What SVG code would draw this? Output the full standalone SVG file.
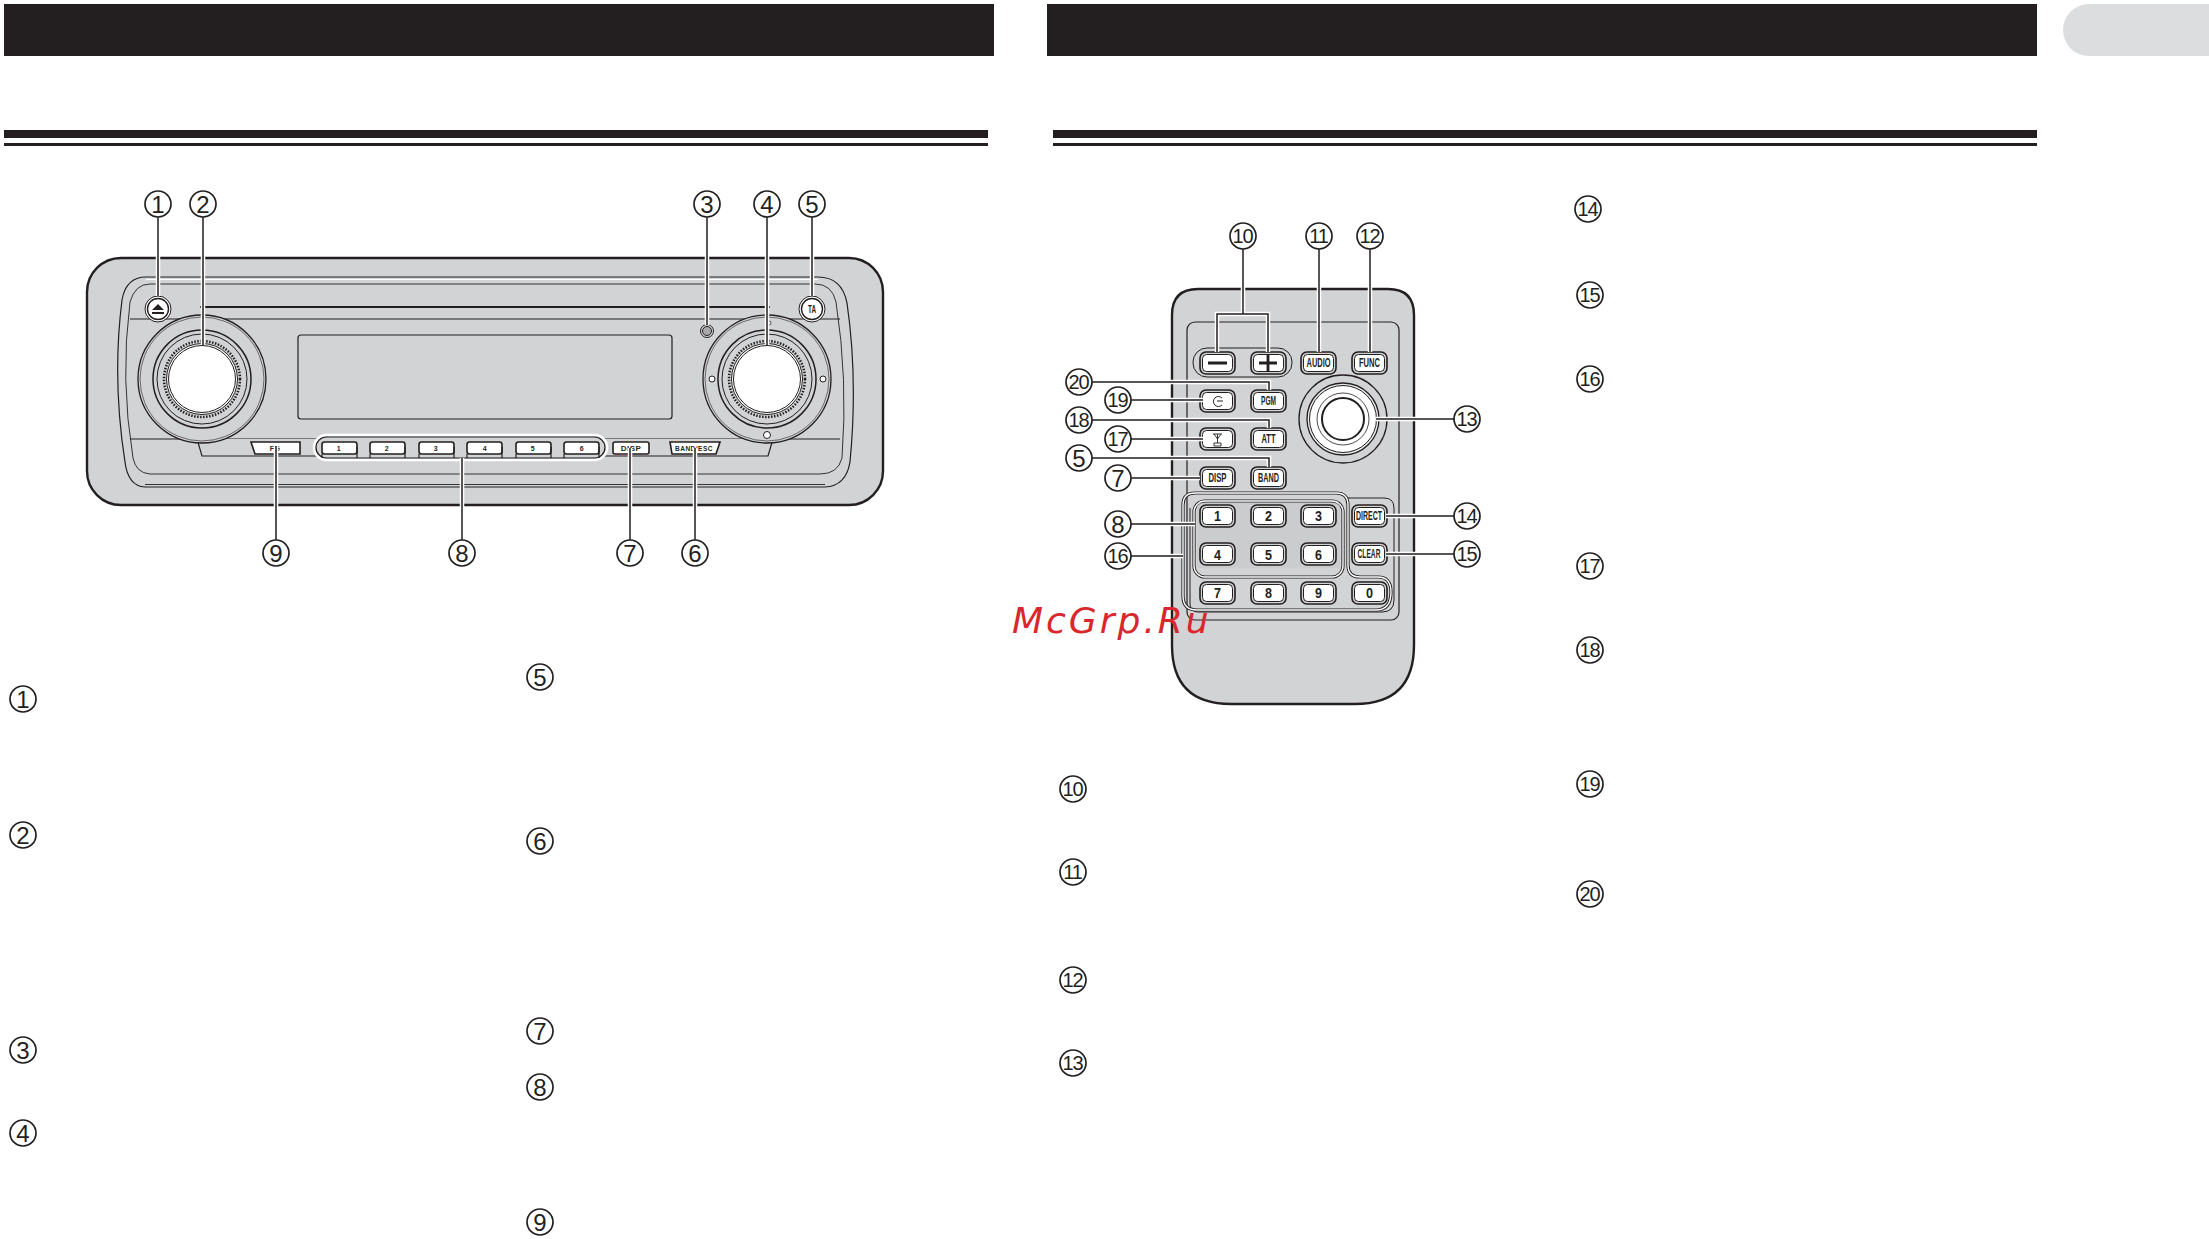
<svg xmlns="http://www.w3.org/2000/svg" width="2209" height="1239" viewBox="0 0 2209 1239">
<style>
text{font-family:"Liberation Sans",Arial,sans-serif;fill:#231f20;text-anchor:middle}
.c{fill:#fff;stroke:#231f20;stroke-width:1.7}
.n{font-size:24px}
.nn{font-size:20px;letter-spacing:-1.2px}
.g{fill:#d1d3d4;stroke:#231f20}
.l{fill:none;stroke:#231f20;stroke-width:1.2}
.h{fill:none;stroke:#fff;stroke-width:4.5}
.k{fill:none;stroke:#231f20;stroke-width:1.5}
.hb{fill:#fff;stroke:#231f20;stroke-width:1.6}
.ht{font-size:7px;font-weight:bold;letter-spacing:.5px}
.rt{font-size:12px;font-weight:bold}
.rn{font-size:15px;font-weight:bold}
</style>
<defs>
<g id="rb"><rect x="0" y="0" width="35" height="22" rx="6" fill="#d1d3d4" stroke="#231f20" stroke-width="1.6"/><rect x="2.500" y="2.500" width="30" height="17" rx="4" fill="#fff" stroke="#231f20" stroke-width="1"/></g>
<g id="hbtn"><rect x="0" y="0" width="35" height="12" rx="2.500" class="hb"/><path d="M35 5V16M0 12V16" class="l"/></g>
</defs>
<rect width="2209" height="1239" fill="#fff"/>
<g id="page-headers">
<rect x="4" y="4" width="990" height="52" fill="#231f20"/>
<rect x="1047" y="4" width="990" height="52" fill="#231f20"/>
<path d="M2209 4H2089a26 26 0 0 0 0 52H2209Z" fill="#dcddde"/>
<rect x="4" y="130" width="984" height="8" fill="#231f20"/>
<rect x="4" y="143" width="984" height="3" fill="#231f20"/>
<rect x="1053" y="130" width="984" height="8" fill="#231f20"/>
<rect x="1053" y="143" width="984" height="3" fill="#231f20"/>
</g>
<g id="head-unit">
<rect x="87" y="258" width="796" height="247" rx="34" class="g" stroke-width="2.400"/>
<path d="M146 277H818Q842 277 847 303Q858 379 850 462Q846 486 825 487H145Q128 486 125 462Q112 379 122 300Q126 277 146 277Z" class="l"/>
<path d="M150 284H815Q832 284 836 302Q848 379 842 458Q838 474 820 474H150Q136 473 133 458Q120 379 130 302Q135 284 150 284Z" class="l" style="stroke-width:.9"/>
<path d="M146 279.500H818" fill="none" stroke="#fff" stroke-width="1"/>
<path d="M145 484.500H825" class="l" style="stroke-width:.9"/>
<path d="M200 307H770" class="k" style="stroke-width:2"/>
<path d="M130 319H840M130 439H840" class="l"/>
<path d="M197 439L202 456H768L773 439" fill="#d1d3d4" stroke="#231f20" stroke-width="1.200"/>
<rect x="298" y="335" width="374" height="84" rx="3" class="g" stroke-width="1.200"/>
<g id="knob-left">
<circle cx="202" cy="379" r="64" class="g" stroke-width="1.300"/><circle cx="202" cy="379" r="62" fill="none" stroke="#231f20" stroke-width=".6"/>
<circle cx="202" cy="379" r="49" class="g" stroke-width="1.500"/><circle cx="202" cy="379" r="45" class="g" stroke-width="1"/>
<circle cx="202" cy="379" r="38" fill="#d1d3d4" stroke="#231f20" stroke-width="2.500" stroke-dasharray="1.500 1.500"/><circle cx="202" cy="379" r="35.500" fill="#fff" stroke="#231f20" stroke-width="1"/><circle cx="202" cy="379" r="33.500" fill="#fff" stroke="#231f20" stroke-width="1"/>
</g>
<g id="knob-right">
<circle cx="767" cy="379" r="64" class="g" stroke-width="1.300"/><circle cx="767" cy="379" r="62" fill="none" stroke="#231f20" stroke-width=".6"/>
<circle cx="767" cy="379" r="49" class="g" stroke-width="1.500"/><circle cx="767" cy="379" r="45" class="g" stroke-width="1"/>
<circle cx="767" cy="379" r="38" fill="#d1d3d4" stroke="#231f20" stroke-width="2.500" stroke-dasharray="1.500 1.500"/><circle cx="767" cy="379" r="35.500" fill="#fff" stroke="#231f20" stroke-width="1"/><circle cx="767" cy="379" r="33.500" fill="#fff" stroke="#231f20" stroke-width="1"/>
<circle cx="712" cy="379" r="3" fill="#fff" stroke="#231f20"/><circle cx="823" cy="379" r="3" fill="#fff" stroke="#231f20"/><circle cx="767" cy="435" r="3.500" fill="#fff" stroke="#231f20"/><circle cx="769" cy="323" r="2" fill="#fff" stroke="#231f20" stroke-width=".8"/>
</g>
<g id="btn-eject"><circle cx="158" cy="309" r="13" fill="#fff" stroke="#231f20"/><circle cx="158" cy="309" r="10.500" fill="#fff" stroke="#231f20" stroke-width="1.400"/><path d="M152 310L158 304L164 310ZM152 312H164V314H152Z" fill="#231f20"/></g>
<g id="btn-ta"><circle cx="812" cy="309" r="13" fill="#fff" stroke="#231f20"/><circle cx="812" cy="309" r="10.500" fill="#fff" stroke="#231f20" stroke-width="1.400"/><text x="812" y="313" font-size="10" font-weight="bold" textLength="8" lengthAdjust="spacingAndGlyphs">TA</text></g>
<g id="led"><circle cx="707" cy="331" r="6.500" fill="#d1d3d4" stroke="#231f20" stroke-width="1"/><circle cx="707" cy="331" r="4.500" fill="#a7a9ac" stroke="#231f20" stroke-width="1"/></g>
<g id="preset-group">
<rect x="314" y="435" width="293" height="25" rx="12.500" fill="#d1d3d4" stroke="#fff" stroke-width="2.500"/>
<rect x="316" y="437" width="289" height="21" rx="10.500" fill="#d1d3d4" stroke="#231f20" stroke-width="1.200"/>
<use href="#hbtn" x="322" y="442"/><use href="#hbtn" x="370" y="442"/><use href="#hbtn" x="419" y="442"/><use href="#hbtn" x="467" y="442"/><use href="#hbtn" x="516" y="442"/><use href="#hbtn" x="564" y="442"/>
<text x="339" y="451" class="ht">1</text><text x="387" y="451" class="ht">2</text><text x="436" y="451" class="ht">3</text><text x="485" y="451" class="ht">4</text><text x="533" y="451" class="ht">5</text><text x="582" y="451" class="ht">6</text>
</g>
<g id="btn-fg"><path d="M251 442H300V454H255Z" class="hb"/><text x="275" y="451" class="ht">FG</text></g>
<g id="btn-disp"><rect x="613" y="442" width="36" height="12" rx="2" class="hb"/><text x="631" y="451" class="ht" style="font-size:8px">DISP</text></g>
<g id="btn-band"><path d="M670 442H720L716 454H672Z" class="hb"/><text x="694" y="451" class="ht" style="font-size:6.500px">BAND/ESC</text></g>
</g>
<g id="remote">
<path d="M1198 289H1388Q1414 289 1414 315V645Q1414 704 1355 704H1231Q1172 704 1172 645V315Q1172 289 1198 289Z" class="g" stroke-width="2.400"/>
<rect x="1187" y="322" width="212" height="298" rx="8" fill="none" stroke="#231f20" stroke-width="1.200"/>
<rect x="1193" y="348" width="99" height="29" rx="14" fill="none" stroke="#231f20" stroke-width="1"/>
<g id="remote-knob"><circle cx="1343" cy="419" r="44" class="g" stroke-width="1.300"/><circle cx="1343" cy="419" r="36" fill="#e9eaeb" stroke="#231f20" stroke-width="1.300"/><circle cx="1343" cy="419" r="33.500" fill="#fff" stroke="#231f20" stroke-width="1"/><circle cx="1343" cy="419" r="26" fill="#fff" stroke="#231f20" stroke-width=".8"/><circle cx="1343" cy="419" r="21" fill="#fff" stroke="#231f20" stroke-width="2"/></g>
<path d="M1348 498H1384Q1394 498 1394 508V600Q1394 612 1382 612H1198Q1190 612 1190 604V508" class="l" style="stroke-width:1"/>
<path d="M1195 493H1336Q1348 493 1348 505V565Q1348 577 1360 577H1378Q1391 577 1391 592Q1391 610 1376 610H1197Q1183 610 1183 596V505Q1183 493 1195 493Z" fill="none" stroke="#231f20" stroke-width="3.200"/>
<path d="M1195 493H1336Q1348 493 1348 505V565Q1348 577 1360 577H1378Q1391 577 1391 592Q1391 610 1376 610H1197Q1183 610 1183 596V505Q1183 493 1195 493Z" fill="none" stroke="#fff" stroke-width="1.400"/>
<rect x="1194" y="501" width="149" height="76" rx="11" fill="none" stroke="#231f20" stroke-width="3.200"/>
<rect x="1194" y="501" width="149" height="76" rx="11" fill="none" stroke="#fff" stroke-width="1.400"/>
<path d="M1197 503H1340V568H1197Z" fill="#c4c6c8" opacity=".5"/>
<use href="#rb" x="1200" y="352"/><use href="#rb" x="1251" y="352"/><use href="#rb" x="1301" y="352"/><use href="#rb" x="1352" y="352"/>
<path d="M1208 363H1227M1259 363H1277M1268 355V371" fill="none" stroke="#231f20" stroke-width="2.800"/>
<text x="1318.500" y="367" class="rt" textLength="24" lengthAdjust="spacingAndGlyphs">AUDIO</text><text x="1369.500" y="367" class="rt" textLength="21" lengthAdjust="spacingAndGlyphs">FUNC</text>
<use href="#rb" x="1200" y="390"/><use href="#rb" x="1251" y="390"/>
<path d="M1222 398A5 5 0 1 0 1222 405M1217 401H1223" fill="none" stroke="#231f20" stroke-width="1"/>
<text x="1268.500" y="405" class="rt" textLength="15" lengthAdjust="spacingAndGlyphs">PGM</text>
<use href="#rb" x="1200" y="428"/><use href="#rb" x="1251" y="428"/>
<path d="M1213 434H1222M1217.500 434V443M1214 434L1217.500 439L1221 434M1214 443H1221V446H1214Z" fill="none" stroke="#231f20" stroke-width=".9"/>
<text x="1268.500" y="443" class="rt" textLength="14" lengthAdjust="spacingAndGlyphs">ATT</text>
<use href="#rb" x="1200" y="467"/><use href="#rb" x="1251" y="467"/>
<text x="1217.500" y="482" class="rt" textLength="18" lengthAdjust="spacingAndGlyphs">DISP</text><text x="1268.500" y="482" class="rt" textLength="21" lengthAdjust="spacingAndGlyphs">BAND</text>
<use href="#rb" x="1200" y="505"/><use href="#rb" x="1251" y="505"/><use href="#rb" x="1301" y="505"/><use href="#rb" x="1352" y="505"/>
<text x="1217.500" y="521" class="rn" textLength="7" lengthAdjust="spacingAndGlyphs">1</text><text x="1268.500" y="521" class="rn" textLength="7" lengthAdjust="spacingAndGlyphs">2</text><text x="1318.500" y="521" class="rn" textLength="7" lengthAdjust="spacingAndGlyphs">3</text><text x="1369" y="520" class="rt" textLength="26" lengthAdjust="spacingAndGlyphs">DIRECT</text>
<use href="#rb" x="1200" y="543"/><use href="#rb" x="1251" y="543"/><use href="#rb" x="1301" y="543"/><use href="#rb" x="1352" y="543"/>
<text x="1217.500" y="560" class="rn" textLength="7" lengthAdjust="spacingAndGlyphs">4</text><text x="1268.500" y="560" class="rn" textLength="7" lengthAdjust="spacingAndGlyphs">5</text><text x="1318.500" y="560" class="rn" textLength="7" lengthAdjust="spacingAndGlyphs">6</text><text x="1369" y="558" class="rt" textLength="23" lengthAdjust="spacingAndGlyphs">CLEAR</text>
<use href="#rb" x="1200" y="582"/><use href="#rb" x="1251" y="582"/><use href="#rb" x="1301" y="582"/><use href="#rb" x="1352" y="582"/>
<text x="1217.500" y="598" class="rn" textLength="7" lengthAdjust="spacingAndGlyphs">7</text><text x="1268.500" y="598" class="rn" textLength="7" lengthAdjust="spacingAndGlyphs">8</text><text x="1318.500" y="598" class="rn" textLength="7" lengthAdjust="spacingAndGlyphs">9</text><text x="1369.500" y="598" class="rn" textLength="7" lengthAdjust="spacingAndGlyphs">0</text>
</g>
<g id="connectors">
<path class="h" d="M158 217V296M203 217V345M707 217V325M767 217V345M812 217V296M276 540V446M462 540V458M630 540V448M695 540V448"/>
<path class="k" d="M158 217V296M203 217V345M707 217V325M767 217V345M812 217V296M276 540V446M462 540V458M630 540V448M695 540V448"/>
<path class="h" d="M1243 249V314M1217 352V314H1268V352M1319 249V352M1370 249V352M1092 382H1269V390M1131 400H1203M1092 420H1269V428M1131 439H1203M1092 458H1269V467M1131 478H1200M1131 524H1195M1131 556H1183M1454 516H1386M1454 554H1386M1454 419H1376"/>
<path class="k" d="M1243 249V314M1217 352V314H1268V352M1319 249V352M1370 249V352M1092 382H1269V390M1131 400H1203M1092 420H1269V428M1131 439H1203M1092 458H1269V467M1131 478H1200M1131 524H1195M1131 556H1183M1454 516H1386M1454 554H1386M1454 419H1376"/>
</g>
<g id="callouts-head">
<g id="c1"><circle class="c" cx="158" cy="204" r="13"/><text class="n" x="158" y="212.500">1</text></g>
<g id="c2"><circle class="c" cx="203" cy="204" r="13"/><text class="n" x="203" y="212.500">2</text></g>
<g id="c3"><circle class="c" cx="707" cy="204" r="13"/><text class="n" x="707" y="212.500">3</text></g>
<g id="c4"><circle class="c" cx="767" cy="204" r="13"/><text class="n" x="767" y="212.500">4</text></g>
<g id="c5"><circle class="c" cx="812" cy="204" r="13"/><text class="n" x="812" y="212.500">5</text></g>
<g id="c9"><circle class="c" cx="276" cy="553" r="13"/><text class="n" x="276" y="561.500">9</text></g>
<g id="c8"><circle class="c" cx="462" cy="553" r="13"/><text class="n" x="462" y="561.500">8</text></g>
<g id="c7"><circle class="c" cx="630" cy="553" r="13"/><text class="n" x="630" y="561.500">7</text></g>
<g id="c6"><circle class="c" cx="695" cy="553" r="13"/><text class="n" x="695" y="561.500">6</text></g>
</g>
<g id="callouts-remote">
<g id="r10"><circle class="c" cx="1243" cy="236" r="13"/><text class="nn" x="1242.500" y="243">10</text></g>
<g id="r11"><circle class="c" cx="1319" cy="236" r="13"/><text class="nn" x="1318.500" y="243">11</text></g>
<g id="r12"><circle class="c" cx="1370" cy="236" r="13"/><text class="nn" x="1369.500" y="243">12</text></g>
<g id="r20"><circle class="c" cx="1079" cy="382" r="13"/><text class="nn" x="1078.500" y="389">20</text></g>
<g id="r19"><circle class="c" cx="1118" cy="400" r="13"/><text class="nn" x="1117.500" y="407">19</text></g>
<g id="r18"><circle class="c" cx="1079" cy="420" r="13"/><text class="nn" x="1078.500" y="427">18</text></g>
<g id="r17"><circle class="c" cx="1118" cy="439" r="13"/><text class="nn" x="1117.500" y="446">17</text></g>
<g id="r5"><circle class="c" cx="1079" cy="458" r="13"/><text class="n" x="1079" y="466.500">5</text></g>
<g id="r7"><circle class="c" cx="1118" cy="478" r="13"/><text class="n" x="1118" y="486.500">7</text></g>
<g id="r8"><circle class="c" cx="1118" cy="524" r="13"/><text class="n" x="1118" y="532.500">8</text></g>
<g id="r16"><circle class="c" cx="1118" cy="556" r="13"/><text class="nn" x="1117.500" y="563">16</text></g>
<g id="r13"><circle class="c" cx="1467" cy="419" r="13"/><text class="nn" x="1466.500" y="426">13</text></g>
<g id="r14"><circle class="c" cx="1467" cy="516" r="13"/><text class="nn" x="1466.500" y="523">14</text></g>
<g id="r15"><circle class="c" cx="1467" cy="554" r="13"/><text class="nn" x="1466.500" y="561">15</text></g>
</g>
<g id="body-markers">
<g><circle class="c" cx="23" cy="699" r="13"/><text class="n" x="23" y="707.500">1</text></g>
<g><circle class="c" cx="23" cy="835" r="13"/><text class="n" x="23" y="843.500">2</text></g>
<g><circle class="c" cx="23" cy="1050" r="13"/><text class="n" x="23" y="1058.500">3</text></g>
<g><circle class="c" cx="23" cy="1133" r="13"/><text class="n" x="23" y="1141.500">4</text></g>
<g><circle class="c" cx="540" cy="677" r="13"/><text class="n" x="540" y="685.500">5</text></g>
<g><circle class="c" cx="540" cy="841" r="13"/><text class="n" x="540" y="849.500">6</text></g>
<g><circle class="c" cx="540" cy="1031" r="13"/><text class="n" x="540" y="1039.500">7</text></g>
<g><circle class="c" cx="540" cy="1087" r="13"/><text class="n" x="540" y="1095.500">8</text></g>
<g><circle class="c" cx="540" cy="1222" r="13"/><text class="n" x="540" y="1230.500">9</text></g>
<g><circle class="c" cx="1073" cy="789" r="13"/><text class="nn" x="1072.500" y="796">10</text></g>
<g><circle class="c" cx="1073" cy="872" r="13"/><text class="nn" x="1072.500" y="879">11</text></g>
<g><circle class="c" cx="1073" cy="980" r="13"/><text class="nn" x="1072.500" y="987">12</text></g>
<g><circle class="c" cx="1073" cy="1063" r="13"/><text class="nn" x="1072.500" y="1070">13</text></g>
<g><circle class="c" cx="1588" cy="209" r="13"/><text class="nn" x="1587.500" y="216">14</text></g>
<g><circle class="c" cx="1590" cy="295" r="13"/><text class="nn" x="1589.500" y="302">15</text></g>
<g><circle class="c" cx="1590" cy="379" r="13"/><text class="nn" x="1589.500" y="386">16</text></g>
<g><circle class="c" cx="1590" cy="566" r="13"/><text class="nn" x="1589.500" y="573">17</text></g>
<g><circle class="c" cx="1590" cy="650" r="13"/><text class="nn" x="1589.500" y="657">18</text></g>
<g><circle class="c" cx="1590" cy="784" r="13"/><text class="nn" x="1589.500" y="791">19</text></g>
<g><circle class="c" cx="1590" cy="894" r="13"/><text class="nn" x="1589.500" y="901">20</text></g>
</g>
<text id="watermark" x="1012" y="633" style="font-family:'DejaVu Sans',sans-serif;font-style:italic;font-size:36px;letter-spacing:3px;fill:#d9272b;text-anchor:start">McGrp.Ru</text>
</svg>
